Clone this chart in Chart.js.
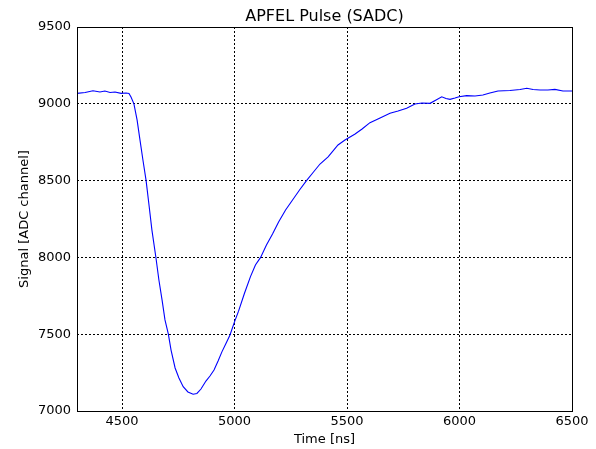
<!DOCTYPE html>
<html>
<head>
<meta charset="utf-8">
<script src="https://cdn.jsdelivr.net/npm/chart.js@4"></script>
<style>
    html, body { margin: 0; padding: 0; background: #fff; }
    #pulse-wrap { width: 596px; height: 449px; }
</style>
</head>
<body>
<div id="pulse-wrap"><canvas id="pulse-chart" width="596" height="449"></canvas></div>
<script>
// Sample times [ns] and SADC signal
const timeNs = [
    4300, 4336, 4371, 4402, 4424, 4447, 4469, 4496, 4518, 4531,
    4540, 4553, 4567, 4580, 4593, 4607, 4620, 4633, 4651, 4664,
    4678, 4691, 4706, 4718, 4736, 4753, 4772, 4793, 4816, 4833,
    4851, 4873, 4891, 4909, 4927, 4944, 4962, 4980, 5000, 5018,
    5044, 5071, 5093, 5116, 5142, 5169, 5196, 5227, 5258, 5289,
    5320, 5351, 5380, 5416, 5460, 5491, 5536, 5567, 5602, 5647,
    5691, 5727, 5765, 5802, 5833, 5869, 5896, 5921, 5940, 5958,
    5980, 5998, 6032, 6069, 6104, 6135, 6171, 6224, 6269, 6299,
    6327, 6358, 6393, 6424, 6460, 6500
];
const signalAdc = [
    9068, 9074, 9085, 9077, 9083, 9074, 9077, 9068, 9070, 9067,
    9044, 9000, 8895, 8764, 8634, 8501, 8341, 8178, 7996, 7853,
    7723, 7593, 7501, 7397, 7280, 7215, 7158, 7124, 7109, 7114,
    7143, 7195, 7228, 7267, 7325, 7385, 7440, 7495, 7580, 7650,
    7765, 7875, 7951, 8000, 8081, 8152, 8231, 8309, 8374, 8439,
    8500, 8556, 8608, 8654, 8732, 8764, 8803, 8836, 8877, 8908,
    8938, 8953, 8971, 8999, 9005, 9003, 9025, 9046, 9035, 9029,
    9038, 9046, 9053, 9051, 9057, 9070, 9083, 9087, 9093, 9101,
    9093, 9090, 9090, 9094, 9083, 9083
];
const xTicks = [4500, 5000, 5500, 6000, 6500];
const yTicks = [7000, 7500, 8000, 8500, 9000, 9500];

const FONT = "'DejaVu Sans', sans-serif";

// Draws the black frame round the plot and the title over the plot area
const frameAndTitle = {
    id: 'frameAndTitle',
    afterDraw(chart) {
        const ctx = chart.ctx;
        const a = chart.chartArea;
        ctx.save();
        ctx.strokeStyle = '#000';
        ctx.lineWidth = 1;
        ctx.strokeRect(Math.round(a.left) + 0.5, Math.round(a.top) + 0.5,
            Math.round(a.right - a.left), Math.round(a.bottom - a.top));
        ctx.fillStyle = '#000';
        ctx.font = '16px ' + FONT;
        ctx.textAlign = 'center';
        ctx.textBaseline = 'middle';
        ctx.fillText('APFEL Pulse (SADC)', (a.left + a.right) / 2, 17);
        ctx.restore();
    }
};

// plain numbers, no thousands separator
const plainTick = (value) => String(value);

function buildPulseChart(canvasId) {
    const points = timeNs.map((t, i) => ({ x: t, y: signalAdc[i] }));
    return new Chart(document.getElementById(canvasId), {
        type: 'line',
        data: {
            datasets: [{
                data: points,
                borderColor: '#0000ff',
                borderWidth: 1.1,
                pointRadius: 0,
                tension: 0,
                fill: false
            }]
        },
        options: {
            responsive: false,
            animation: false,
            layout: { padding: { top: 27, right: 24, left: 0, bottom: 0 } },
            plugins: {
                legend: { display: false },
                tooltip: { enabled: false },
                title: { display: false }
            },
            scales: {
                x: {
                    type: 'linear',
                    min: 4300,
                    max: 6500,
                    afterBuildTicks: (scale) => { scale.ticks = xTicks.map(v => ({ value: v })); },
                    afterFit: (scale) => { scale.height = 38; },
                    border: { display: false, dash: [2, 2] },
                    grid: { color: '#000', lineWidth: 1, drawTicks: false },
                    ticks: { color: '#000', font: { family: FONT, size: 13 }, padding: 3, maxRotation: 0, callback: plainTick },
                    title: {
                        display: true,
                        text: 'Time [ns]',
                        color: '#000',
                        font: { family: FONT, size: 13 },
                        padding: { top: 0, bottom: 2 }
                    }
                },
                y: {
                    type: 'linear',
                    min: 7000,
                    max: 9500,
                    afterBuildTicks: (scale) => { scale.ticks = yTicks.map(v => ({ value: v })); },
                    afterFit: (scale) => { scale.width = 77; },
                    border: { display: false, dash: [2, 2] },
                    grid: { color: '#000', lineWidth: 1, drawTicks: false },
                    ticks: { color: '#000', font: { family: FONT, size: 13 }, padding: 6, callback: plainTick },
                    title: {
                        display: true,
                        text: 'Signal [ADC channel]',
                        color: '#000',
                        font: { family: FONT, size: 13 },
                        padding: { top: 17, bottom: 0 }
                    }
                }
            }
        },
        plugins: [frameAndTitle]
    });
}

buildPulseChart('pulse-chart');
</script>
</body>
</html>
